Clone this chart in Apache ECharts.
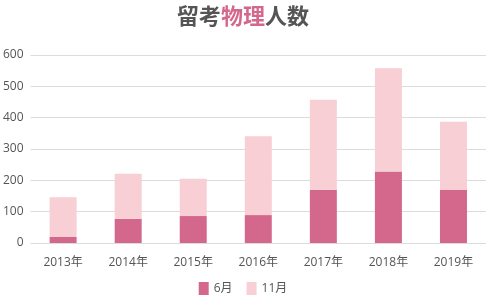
<!DOCTYPE html>
<html><head><meta charset="utf-8">
<script src="https://cdn.jsdelivr.net/npm/echarts@6/dist/echarts.min.js"></script>
<style>html,body{margin:0;padding:0;background:#fff}#c{width:486px;height:305px}</style>
</head><body><div id="c"></div>
<script>
var categories = ['2013年','2014年','2015年','2016年','2017年','2018年','2019年'];
var june = [20, 77, 86, 89, 170, 228, 169];
var november = [126, 144, 119, 252, 287, 330, 218];
var yTicks = [0, 100, 200, 300, 400, 500, 600];
var FF = '"Open Sans", "Noto Sans CJK JP", sans-serif';
var chart = echarts.init(document.getElementById('c'), null, {renderer:'canvas'});
chart.setOption({
  animation:false,
  title:{
    text:'{a|留考}{b|物理}{a|人数}', left:'center', top:0,
    textStyle:{rich:{
      a:{fontSize:22,fontWeight:'bold',color:'#555555',fontFamily:'"Noto Sans CJK JP", sans-serif'},
      b:{fontSize:22,fontWeight:'bold',color:'#d4688c',fontFamily:'"Noto Sans CJK JP", sans-serif'}
    }}
  },
  legend:{
    bottom:5, left:'center', itemWidth:10, itemHeight:13, itemGap:14,
    icon:'rect',
    textStyle:{fontSize:12,color:'#555',fontFamily:FF},
    data:['6月','11月']
  },
  grid:{left:26,right:0,top:55,bottom:62,containLabel:false},
  xAxis:{
    type:'category', data:categories,
    axisLine:{show:false}, axisTick:{show:false},
    axisLabel:{fontSize:12,color:'#555',fontFamily:FF,margin:14}
  },
  yAxis:{
    type:'value', min:yTicks[0], max:yTicks[yTicks.length-1], interval:100,
    axisLine:{show:false}, axisTick:{show:false},
    axisLabel:{fontSize:12,color:'#555',fontFamily:FF,margin:7},
    splitLine:{lineStyle:{color:'#dcdcdc',width:1}}
  },
  series:[
    {name:'6月',type:'bar',stack:'t',data:june,barWidth:27,
     itemStyle:{color:'#d4688c'}},
    {name:'11月',type:'bar',stack:'t',data:november,barWidth:27,
     itemStyle:{color:'#f7cfd5'}}
  ]
});
</script></body></html>
